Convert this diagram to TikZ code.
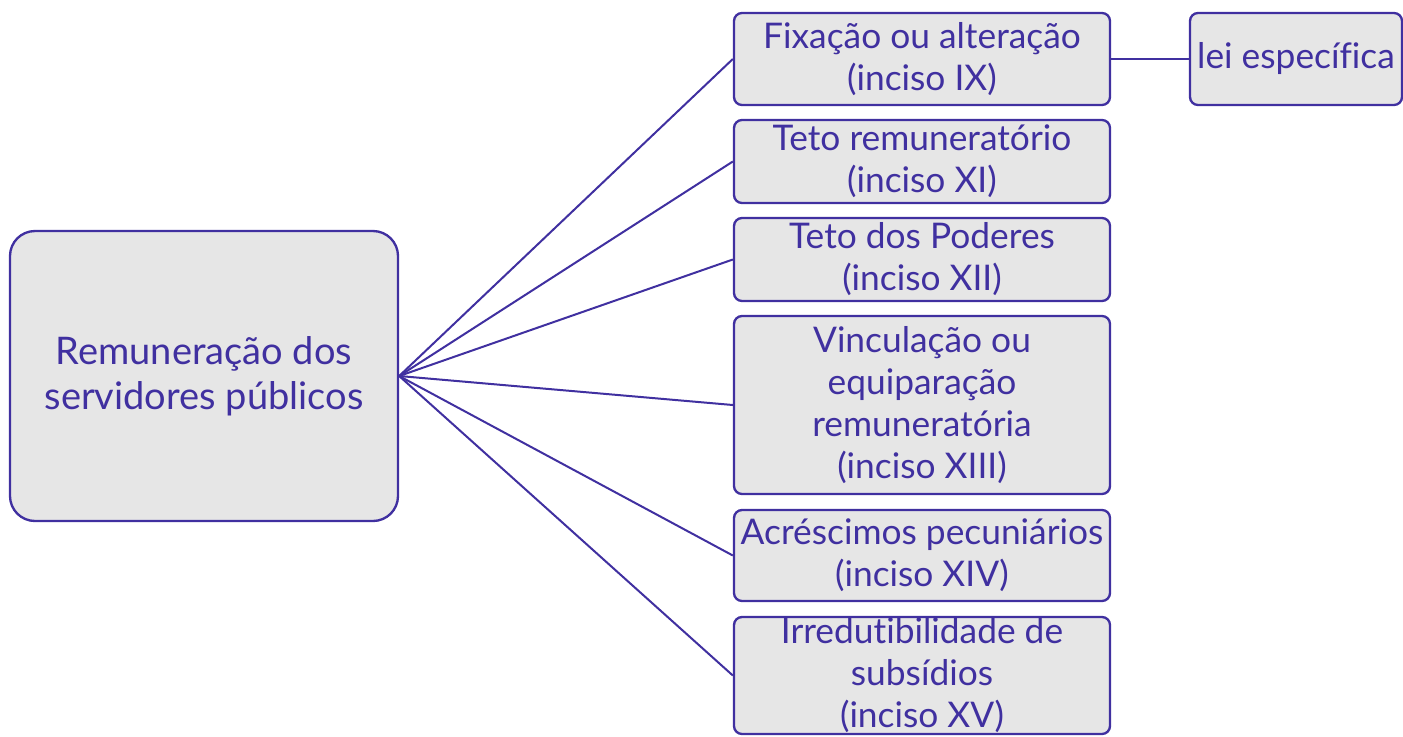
\documentclass[tikz,border=0pt]{standalone}
\usepackage{fontspec}
\setmainfont{Lato}[Ligatures=NoCommon]
\usetikzlibrary{shapes,positioning}
\definecolor{mmpurple}{HTML}{4030A0}
\definecolor{mmgray}{HTML}{E6E6E6}

\begin{document}
\begin{tikzpicture}[x=0.75pt,y=-0.75pt,every node/.style = {shape = rectangle, rounded corners = 6pt, draw = mmpurple, line width = 1.75pt, fill = mmgray, text = mmpurple, align = center, inner sep = 0pt, font = \fontsize{26.5}{31.5}\selectfont},topic/.style = {rounded corners = 18.75pt, minimum width = 291pt, minimum height = 217.5pt, font = \fontsize{28.5}{33.75}\selectfont},sub/.style = {minimum width = 282pt},purple edge/.style = { -, line width = 1.5pt, mmpurple}]
\useasboundingbox (0,0) rectangle (1403,736);
\node[topic](0;0) at (204,376) {Remuneração dos \\ servidores públicos};
  \node[sub, minimum height = 69pt](1;1)  at (922,59) {Fixação ou alteração \\ (inciso IX)};
  \node[sub, minimum height = 62.25pt](1;2)  at (922,161.5) {Teto remuneratório \\ (inciso XI)};
  \node[sub, minimum height = 62.25pt](1;3)  at (922,259.5) {Teto dos Poderes \\ (inciso XII)};
  \node[sub, minimum height = 133.5pt](1;4)  at (922,405) {Vinculação ou \\ equiparação \\ remuneratória \\ (inciso XIII)};
  \node[sub, minimum height = 68.25pt](1;5)  at (922,555.5) {Acréscimos pecuniários \\ (inciso XIV)};
  \node[sub, minimum height = 87.75pt](1;6)  at (922,675.5) {Irredutibilidade de \\ subsídios \\ (inciso XV)};
     \node[minimum width = 159pt, minimum height = 69pt](2;1)  at (1296,59) {lei específica};
\foreach \j in {1,...,6}
  { \draw[purple edge] (0;0.east) -- (1;\j.west); }
\draw[purple edge] (1;1.east) -- (2;1.west);
\end{tikzpicture}
\end{document}
